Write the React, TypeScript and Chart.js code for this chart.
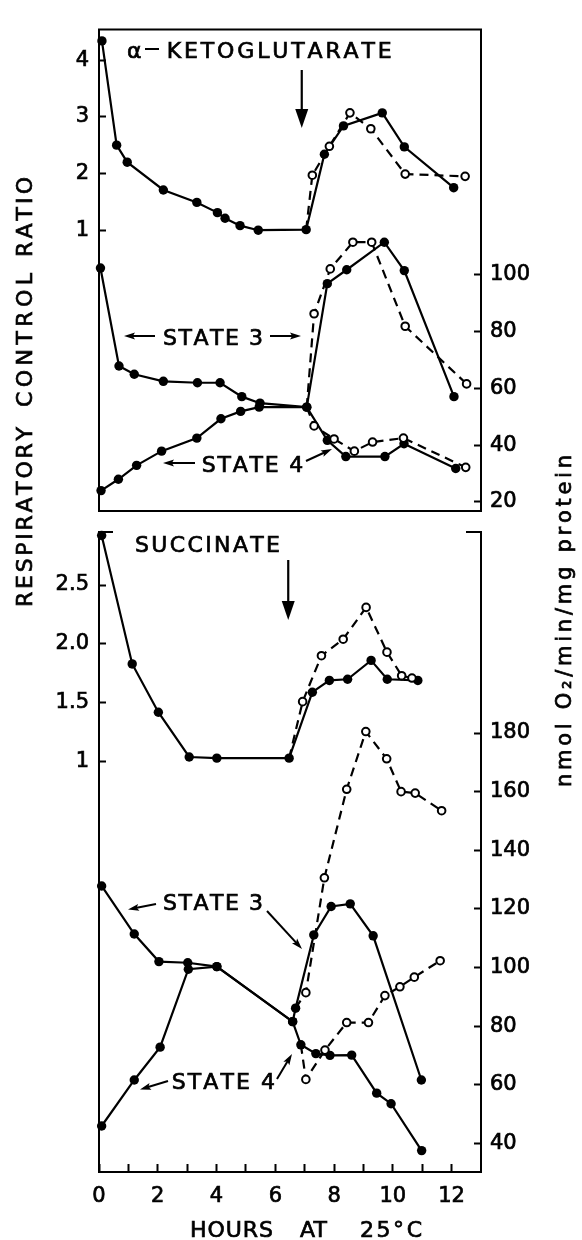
import React, { useEffect, useRef } from "react";
import { Chart, registerables } from "chart.js";

Chart.register(...registerables);

const W = 582;
const H = 1240;
const FAMILY = '"DejaVu Sans", "Liberation Sans", sans-serif';

// ---------- x axis: hours at 25 °C
const HOUR_TICKS = [0, 1, 2, 3, 4, 5, 6, 7, 8, 9, 10, 11, 12];
const HOUR_LABELS = ["0", "", "2", "", "4", "", "6", "", "8", "", "10", "", "12"];

// ---------- alpha-ketoglutarate panel axes
const KG_RCR_TICKS = [1, 2, 3, 4];
const KG_RCR_LABELS = ["1", "2", "3", "4"];
const KG_RATE_TICKS = [20, 40, 60, 80, 100];
const KG_RATE_LABELS = ["20", "40", "60", "80", "100"];

// ---------- succinate panel axes
const SU_RCR_TICKS = [1, 1.5, 2, 2.5];
const SU_RCR_LABELS = ["1", "1.5", "2.0", "2.5"];
const SU_RATE_TICKS = [40, 60, 80, 100, 120, 140, 160, 180];
const SU_RATE_LABELS = ["40", "60", "80", "100", "120", "140", "160", "180"];

// ---------- alpha-ketoglutarate data (solid = filled circles, dashed = open circles)
const KG_RCR_SOLID_H = [0.1, 0.6, 0.96, 2.19, 3.33, 4.03, 4.29, 4.8, 5.42, 7.05, 7.67, 8.32, 9.64, 10.39, 12.07];
const KG_RCR_SOLID_V = [4.34, 2.5, 2.2, 1.71, 1.49, 1.31, 1.21, 1.08, 1.0, 1.01, 2.34, 2.84, 3.07, 2.47, 1.75];
const KG_RCR_DASH_H = [7.05, 7.26, 7.84, 8.54, 9.25, 10.42, 12.46];
const KG_RCR_DASH_V = [1.01, 1.97, 2.48, 3.07, 2.79, 1.99, 1.95];

const KG_S3_SOLID_H = [0.05, 0.68, 1.2, 2.19, 3.35, 4.12, 4.86, 5.48, 7.07, 7.77, 8.43, 9.71, 10.39, 12.08];
const KG_S3_SOLID_V = [102.4, 67.9, 65.0, 62.5, 62.0, 62.0, 57.1, 54.8, 53.4, 96.9, 101.8, 111.5, 101.5, 57.1];
const KG_S3_DASH_H = [7.07, 7.32, 7.87, 8.64, 9.28, 10.42, 12.51];
const KG_S3_DASH_V = [53.4, 86.3, 102.1, 111.5, 111.5, 81.9, 61.6];

const KG_S4_SOLID_H = [0.07, 0.66, 1.28, 2.13, 3.33, 4.15, 4.82, 5.45, 7.07, 7.77, 8.4, 9.73, 10.38, 12.14];
const KG_S4_SOLID_V = [24.0, 28.0, 32.9, 37.9, 42.5, 49.3, 51.9, 53.4, 53.4, 41.7, 36.0, 36.0, 40.5, 31.8];
const KG_S4_DASH_H = [7.07, 7.32, 8.0, 8.69, 9.31, 10.36, 12.48];
const KG_S4_DASH_V = [53.4, 46.8, 42.2, 37.9, 41.1, 42.5, 32.2];

// ---------- succinate data
const SU_RCR_SOLID_H = [0.09, 1.13, 2.02, 3.07, 4.01, 6.47, 7.26, 7.84, 8.46, 9.26, 9.81, 10.85];
const SU_RCR_SOLID_V = [2.92, 1.83, 1.42, 1.04, 1.03, 1.03, 1.59, 1.69, 1.7, 1.86, 1.7, 1.69];
const SU_RCR_DASH_H = [6.47, 6.93, 7.57, 8.31, 9.09, 9.8, 10.3, 10.65, 10.85];
const SU_RCR_DASH_V = [1.03, 1.51, 1.9, 2.04, 2.31, 1.93, 1.73, 1.71, 1.69];

const SU_S3_SOLID_H = [0.09, 1.2, 2.04, 3.02, 4.01, 6.59, 6.69, 7.31, 7.9, 8.55, 9.33, 10.97];
const SU_S3_SOLID_V = [127.8, 111.4, 102.0, 101.6, 100.3, 81.5, 86.1, 111.1, 120.8, 121.7, 110.8, 61.6];
const SU_S3_DASH_H = [6.69, 7.04, 7.67, 8.43, 9.08, 9.79, 10.28, 10.76, 11.66];
const SU_S3_DASH_V = [86.1, 91.4, 130.6, 160.8, 180.5, 171.2, 160.0, 159.5, 153.5];

const SU_S4_SOLID_H = [0.09, 1.2, 2.08, 3.04, 4.01, 6.59, 6.87, 7.38, 7.86, 8.6, 9.45, 9.94, 10.98];
const SU_S4_SOLID_V = [45.9, 61.6, 72.8, 99.4, 100.3, 81.5, 73.6, 70.6, 70.0, 70.1, 57.1, 53.5, 37.5];
const SU_S4_DASH_H = [6.87, 7.04, 7.69, 8.43, 9.17, 9.73, 10.24, 10.73, 11.61];
const SU_S4_DASH_V = [73.6, 61.8, 71.8, 81.2, 81.2, 90.4, 93.4, 96.7, 102.3];

// ---------- helpers
function series(h: number[], v: number[], axis: string, dashed: boolean, hidden: number[] = []) {
  return {
    data: h.map((x, i) => ({ x, y: v[i] })),
    xAxisID: "x",
    yAxisID: axis,
    borderColor: "#000",
    borderWidth: 2.2,
    borderDash: dashed ? [9, 6] : [],
    pointRadius: h.map((_, i) => (hidden.includes(i) ? 0 : dashed ? 3.8 : 4.7)),
    pointBackgroundColor: dashed ? "#fff" : "#000",
    pointBorderColor: "#000",
    pointBorderWidth: dashed ? 2 : 0,
    pointHoverRadius: 0,
    tension: 0,
    fill: false,
    clip: false as any,
  };
}

const TICK_FONT = { family: FAMILY, size: 21 };

function yAxis(position: string, min: number, max: number, ticks: number[], labels: string[], width: number, padding: number) {
  return {
    type: "linear",
    position,
    min,
    max,
    afterBuildTicks: (s: any) => {
      s.ticks = ticks.map((value) => ({ value }));
    },
    afterFit: (s: any) => {
      s.width = width;
    },
    ticks: {
      autoSkip: false,
      padding,
      color: "#000",
      textStrokeColor: "#000",
      textStrokeWidth: 0.7,
      font: TICK_FONT,
      callback: (_v: any, i: number) => labels[i] ?? "",
    },
    grid: { display: true, drawOnChartArea: false, drawTicks: true, tickLength: -7, tickWidth: 2, tickColor: "#000" },
    border: { display: true, color: "#000", width: 2 },
  };
}

function xAxis(showTicks: boolean, height: number) {
  return {
    type: "linear",
    position: "bottom",
    min: 0,
    max: 13,
    afterBuildTicks: (s: any) => {
      s.ticks = HOUR_TICKS.map((value) => ({ value }));
    },
    afterFit: (s: any) => {
      s.height = height;
    },
    ticks: {
      display: showTicks,
      autoSkip: false,
      maxRotation: 0,
      minRotation: 0,
      padding: 20,
      color: "#000",
      textStrokeColor: "#000",
      textStrokeWidth: 0.7,
      font: TICK_FONT,
      callback: (_v: any, i: number) => HOUR_LABELS[i] ?? "",
    },
    grid: { display: showTicks, drawOnChartArea: false, drawTicks: true, tickLength: -8, tickWidth: 2, tickColor: "#000" },
    border: { display: true, color: "#000", width: 2 },
  };
}

function spaced(ctx: CanvasRenderingContext2D, text: string, x: number, y: number, width: number) {
  const chars = [...text];
  const natural = chars.reduce((a, c) => a + ctx.measureText(c).width, 0);
  const sp = chars.length > 1 ? (width - natural) / (chars.length - 1) : 0;
  let cx = x;
  for (const c of chars) {
    ctx.fillText(c, cx, y);
    ctx.strokeText(c, cx, y);
    cx += ctx.measureText(c).width + sp;
  }
}

function vspaced(ctx: CanvasRenderingContext2D, text: string, baseX: number, yTop: number, yBottom: number) {
  ctx.save();
  ctx.translate(baseX, yBottom);
  ctx.rotate(-Math.PI / 2);
  spaced(ctx, text, 0, 0, yBottom - yTop);
  ctx.restore();
}

function arrow(ctx: CanvasRenderingContext2D, x1: number, y1: number, x2: number, y2: number, headLen: number, headHalf: number) {
  const a = Math.atan2(y2 - y1, x2 - x1);
  ctx.save();
  ctx.lineWidth = 2;
  ctx.beginPath();
  ctx.moveTo(x1, y1);
  ctx.lineTo(x2 - Math.cos(a) * headLen * 0.7, y2 - Math.sin(a) * headLen * 0.7);
  ctx.stroke();
  ctx.translate(x2, y2);
  ctx.rotate(a);
  ctx.beginPath();
  ctx.moveTo(0, 0);
  ctx.lineTo(-headLen, -headHalf);
  ctx.lineTo(-headLen * 0.8, 0);
  ctx.lineTo(-headLen, headHalf);
  ctx.closePath();
  ctx.fill();
  ctx.restore();
}

function bigArrow(ctx: CanvasRenderingContext2D, x: number, y1: number, y2: number) {
  ctx.save();
  ctx.lineWidth = 2.2;
  ctx.beginPath();
  ctx.moveTo(x, y1);
  ctx.lineTo(x, y2 - 10);
  ctx.stroke();
  ctx.beginPath();
  ctx.moveTo(x, y2);
  ctx.lineTo(x - 6.5, y2 - 19);
  ctx.lineTo(x + 6.5, y2 - 19);
  ctx.closePath();
  ctx.fill();
  ctx.restore();
}

function hline(ctx: CanvasRenderingContext2D, x1: number, x2: number, y: number) {
  ctx.save();
  ctx.lineWidth = 2;
  ctx.beginPath();
  ctx.moveTo(x1, y);
  ctx.lineTo(x2, y);
  ctx.stroke();
  ctx.restore();
}

const decorPlugin = {
  id: "decor",
  afterDraw(chart: any, _args: any, opts: any) {
    const ctx: CanvasRenderingContext2D = chart.ctx;
    const area = chart.chartArea;
    const xs = chart.scales.x;
    ctx.save();
    ctx.fillStyle = "#000";
    ctx.strokeStyle = "#000";
    ctx.lineWidth = 0.7;
    ctx.textBaseline = "alphabetic";
    ctx.textAlign = "left";
    ctx.font = `22px ${FAMILY}`;
    if (opts.panel === "top") {
      hline(ctx, area.left - 1, area.right + 1, area.top);

      spaced(ctx, "α", 127, 57.5, 14);
      hline(ctx, 145, 159, 49);
      spaced(ctx, "KETOGLUTARATE", 166.7, 57.5, 225);
      bigArrow(ctx, xs.getPixelForValue(6.9), 70, 128);

      spaced(ctx, "STATE 3", 163, 345, 100);
      arrow(ctx, 155, 336, 124, 336, 11, 3.5);
      arrow(ctx, 270, 336, 301, 336, 11, 3.5);

      spaced(ctx, "STATE 4", 201.7, 471.5, 101.6);
      arrow(ctx, 195, 463, 163, 463, 11, 3.5);
      arrow(ctx, 306, 461, 332, 449, 11, 3.5);

      // axis titles (span both panels)
      vspaced(ctx, "RATIO", 32, 177, 257);
      vspaced(ctx, "CONTROL", 32, 273, 407);
      vspaced(ctx, "RESPIRATORY", 32, 427, 607);

      ctx.font = `21px ${FAMILY}`;
      vspaced(ctx, "nmol O₂/min/mg protein", 571, 455, 787);
    } else {
      // short caps at top of the two vertical axes
      hline(ctx, area.left - 1, area.left + 14, area.top);
      hline(ctx, area.right - 15, area.right + 1, area.top);

      spaced(ctx, "SUCCINATE", 135, 551.7, 145);
      bigArrow(ctx, xs.getPixelForValue(6.44), 560, 620);

      spaced(ctx, "STATE 3", 163, 910, 100);
      arrow(ctx, 156, 904, 128, 909.5, 11, 3.5);
      arrow(ctx, 267, 911, 302, 949, 11, 3.5);

      spaced(ctx, "STATE 4", 171.7, 1089.3, 103.3);
      arrow(ctx, 168, 1081, 140, 1089.5, 11, 3.5);
      arrow(ctx, 277, 1079, 292, 1054, 11, 3.5);

      spaced(ctx, "HOURS", 190, 1236.7, 83);
      spaced(ctx, "AT", 300, 1236.7, 27);
      spaced(ctx, "25°C", 360, 1236.7, 62);
    }
    ctx.restore();
  },
};

function baseOptions(panel: string, padding: any, scales: any) {
  return {
    responsive: false,
    maintainAspectRatio: false,
    devicePixelRatio: 1,
    animation: false,
    events: [],
    layout: { padding, autoPadding: false },
    plugins: { legend: { display: false }, tooltip: { enabled: false }, decor: { panel } },
    scales,
  };
}

function topConfig(): any {
  return {
    type: "line",
    data: {
      datasets: [
        series(KG_RCR_DASH_H, KG_RCR_DASH_V, "y", true, [0]),
        series(KG_S3_DASH_H, KG_S3_DASH_V, "y1", true, [0]),
        series(KG_S4_DASH_H, KG_S4_DASH_V, "y1", true, [0]),
        series(KG_RCR_SOLID_H, KG_RCR_SOLID_V, "y", false),
        series(KG_S3_SOLID_H, KG_S3_SOLID_V, "y1", false),
        series(KG_S4_SOLID_H, KG_S4_SOLID_V, "y1", false),
      ],
    },
    options: baseOptions(
      "top",
      { top: 15, bottom: H - 511, left: 0, right: 0 },
      {
        x: xAxis(false, 0),
        y: yAxis("left", -3.954, 4.539, KG_RCR_TICKS, KG_RCR_LABELS, 99, 17),
        y1: yAxis("right", 16.82, 186.4, KG_RATE_TICKS, KG_RATE_LABELS, W - 481, 16),
      }
    ),
    plugins: [decorPlugin],
  };
}

function bottomConfig(): any {
  return {
    type: "line",
    data: {
      datasets: [
        series(SU_RCR_DASH_H, SU_RCR_DASH_V, "y", true, [0, SU_RCR_DASH_H.length - 1]),
        series(SU_S3_DASH_H, SU_S3_DASH_V, "y1", true, [0]),
        series(SU_S4_DASH_H, SU_S4_DASH_V, "y1", true, [0]),
        series(SU_RCR_SOLID_H, SU_RCR_SOLID_V, "y", false),
        series(SU_S3_SOLID_H, SU_S3_SOLID_V, "y1", false),
        series(SU_S4_SOLID_H, SU_S4_SOLID_V, "y1", false),
      ],
    },
    options: baseOptions(
      "bottom",
      { top: 532, bottom: 0, left: 0, right: 0 },
      {
        x: xAxis(true, H - 1172),
        y: yAxis("left", -2.483, 2.95, SU_RCR_TICKS, SU_RCR_LABELS, 99, 17),
        y1: yAxis("right", 30.2, 248.6, SU_RATE_TICKS, SU_RATE_LABELS, W - 481, 16),
      }
    ),
    plugins: [decorPlugin],
  };
}

export default function App() {
  const topRef = useRef<HTMLCanvasElement>(null);
  const botRef = useRef<HTMLCanvasElement>(null);

  useEffect(() => {
    const c1 = new Chart(topRef.current as HTMLCanvasElement, topConfig());
    const c2 = new Chart(botRef.current as HTMLCanvasElement, bottomConfig());
    return () => {
      c1.destroy();
      c2.destroy();
    };
  }, []);

  const canvasStyle: React.CSSProperties = { position: "absolute", left: 0, top: 0, width: W, height: H };
  return (
    <div style={{ position: "absolute", left: 0, top: 0, width: W, height: H, background: "#fff" }}>
      <canvas ref={topRef} width={W} height={H} style={canvasStyle} />
      <canvas ref={botRef} width={W} height={H} style={canvasStyle} />
    </div>
  );
}
